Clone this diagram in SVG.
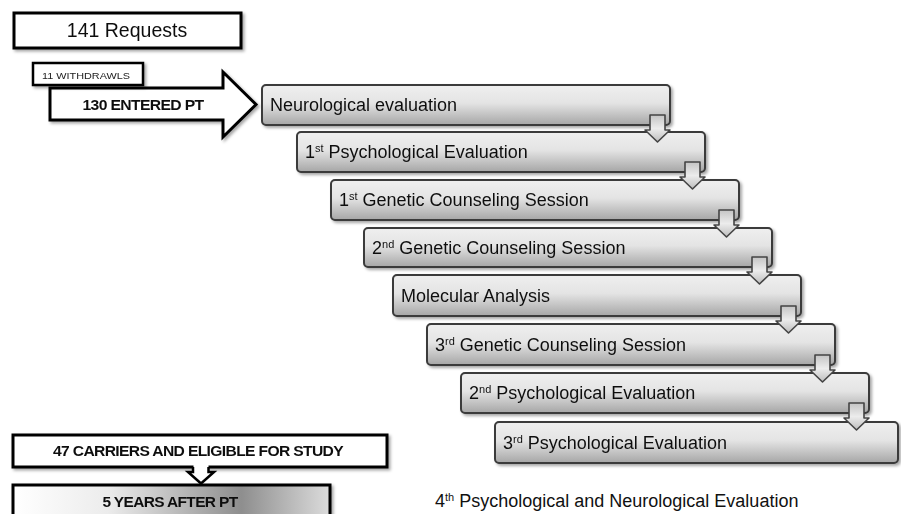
<svg xmlns="http://www.w3.org/2000/svg" width="901" height="514" viewBox="0 0 901 514">
<defs>
<linearGradient id="stepG" x1="0" y1="0" x2="0" y2="1">
<stop offset="0" stop-color="#efefef"/>
<stop offset="0.45" stop-color="#e4e4e4"/>
<stop offset="1" stop-color="#a6a6a6"/>
</linearGradient>
<linearGradient id="arrG" x1="0" y1="0" x2="0" y2="1">
<stop offset="0" stop-color="#c4c4c4"/>
<stop offset="0.5" stop-color="#ececec"/>
<stop offset="1" stop-color="#bdbdbd"/>
</linearGradient>
<linearGradient id="yearsG" x1="0" y1="0" x2="1" y2="0">
<stop offset="0" stop-color="#ffffff"/>
<stop offset="0.3" stop-color="#ececec"/>
<stop offset="0.72" stop-color="#8e8e8e"/>
<stop offset="1" stop-color="#dcdcdc"/>
</linearGradient>
<filter id="sh" x="-10%" y="-20%" width="120%" height="150%">
<feDropShadow dx="2" dy="2" stdDeviation="1.8" flood-color="#000" flood-opacity="0.35"/>
</filter>
</defs>
<style>
.step{fill:url(#stepG);stroke:#3a3a3a;stroke-width:2}
.st{font-family:"Liberation Sans",Arial,sans-serif;font-size:18px;fill:#111}
.sup{font-size:11px}
.blk{fill:#fff;stroke:#000;stroke-width:3}
.cap{font-family:"Liberation Sans",Arial,sans-serif;font-weight:bold;fill:#111;letter-spacing:-0.6px}
.darr{fill:url(#arrG);stroke:#444;stroke-width:1.6;stroke-linejoin:round}
</style>
<rect width="901" height="514" fill="#fff"/>

<g id="requests" filter="url(#sh)">
<rect class="blk" x="14" y="13" width="227" height="35"/>
<text x="127" y="37" text-anchor="middle" font-family="'Liberation Sans',Arial,sans-serif" font-size="19.5" fill="#111">141 Requests</text>
</g>

<g id="entered" filter="url(#sh)">
<polygon class="blk" points="50,88 223,88 223,72 256,104.5 223,137 223,120 50,120"/>
<text class="cap" x="143" y="110" text-anchor="middle" font-size="14.5" textLength="121" lengthAdjust="spacingAndGlyphs">130 ENTERED PT</text>
</g>

<g id="withdrawls" filter="url(#sh)">
<rect x="33" y="63" width="110" height="22" fill="#fff" stroke="#000" stroke-width="2.5"/>
<text x="42" y="79" font-family="'Liberation Sans',Arial,sans-serif" font-size="9" fill="#222" textLength="88" lengthAdjust="spacingAndGlyphs">11 WITHDRAWLS</text>
</g>

<g id="step1" filter="url(#sh)">
<rect class="step" x="262" y="85" width="408" height="40" rx="4"/>
<text class="st" x="270" y="111">Neurological evaluation</text>
</g>
<g id="step2" filter="url(#sh)">
<rect class="step" x="297" y="132" width="408" height="40" rx="4"/>
<text class="st" x="305" y="158">1<tspan class="sup" dy="-6">st</tspan><tspan dy="6"> Psychological Evaluation</tspan></text>
</g>
<g id="step3" filter="url(#sh)">
<rect class="step" x="331" y="180" width="408" height="40" rx="4"/>
<text class="st" x="339" y="206">1<tspan class="sup" dy="-6">st</tspan><tspan dy="6"> Genetic Counseling Session</tspan></text>
</g>
<g id="step4" filter="url(#sh)">
<rect class="step" x="364" y="228" width="408" height="39" rx="4"/>
<text class="st" x="372" y="254">2<tspan class="sup" dy="-6">nd</tspan><tspan dy="6"> Genetic Counseling Session</tspan></text>
</g>
<g id="step5" filter="url(#sh)">
<rect class="step" x="393" y="275" width="408" height="41" rx="4"/>
<text class="st" x="401" y="302">Molecular Analysis</text>
</g>
<g id="step6" filter="url(#sh)">
<rect class="step" x="427" y="324" width="408" height="41" rx="4"/>
<text class="st" x="435" y="351">3<tspan class="sup" dy="-6">rd</tspan><tspan dy="6"> Genetic Counseling  Session</tspan></text>
</g>
<g id="step7" filter="url(#sh)">
<rect class="step" x="461" y="373" width="408" height="40" rx="4"/>
<text class="st" x="469" y="399">2<tspan class="sup" dy="-6">nd</tspan><tspan dy="6"> Psychological Evaluation</tspan></text>
</g>
<g id="step8" filter="url(#sh)">
<rect class="step" x="495" y="422" width="403" height="41" rx="4"/>
<text class="st" x="503" y="449">3<tspan class="sup" dy="-6">rd</tspan><tspan dy="6"> Psychological Evaluation</tspan></text>
</g>

<g id="carriers" filter="url(#sh)">
<rect class="blk" x="13" y="435" width="374" height="32"/>
<text class="cap" x="198" y="456" text-anchor="middle" font-size="14.5" textLength="290" lengthAdjust="spacingAndGlyphs">47 CARRIERS AND ELIGIBLE FOR STUDY</text>
</g>

<g id="years" filter="url(#sh)">
<rect x="13" y="485" width="317" height="45" fill="url(#yearsG)" stroke="#000" stroke-width="3"/>
<text class="cap" x="170" y="507" text-anchor="middle" font-size="14.5" textLength="135" lengthAdjust="spacingAndGlyphs">5 YEARS AFTER PT</text>
</g>

<g id="followup">
<text class="st" x="435" y="507">4<tspan class="sup" dy="-6">th</tspan><tspan dy="6"> Psychological and Neurological Evaluation</tspan></text>
</g>

<g id="connectors">
<path class="darr" d="M650,115 H665 V130 H670 L657.5,142 L645,130 H650 Z"/>
<path class="darr" d="M685,162 H700 V177 H705 L692.5,189 L680,177 H685 Z"/>
<path class="darr" d="M719,210 H734 V225 H739 L726.5,237 L714,225 H719 Z"/>
<path class="darr" d="M752,257 H767 V272 H772 L759.5,284 L747,272 H752 Z"/>
<path class="darr" d="M781,306 H796 V321 H801 L788.5,333 L776,321 H781 Z"/>
<path class="darr" d="M815,355 H830 V370 H835 L822.5,382 L810,370 H815 Z"/>
<path class="darr" d="M849,403 H864 V418 H869 L856.5,430 L844,418 H849 Z"/>
<polygon points="193.5,464 208.5,464 208.5,472 214,472 201,483 188,472 193.5,472" fill="#fff"/>
<polyline points="193,467 193,472 188,472 201,483.5 214,472 208.5,472 208.5,467" fill="none" stroke="#000" stroke-width="2.5" stroke-linejoin="miter"/>
</g>
</svg>
